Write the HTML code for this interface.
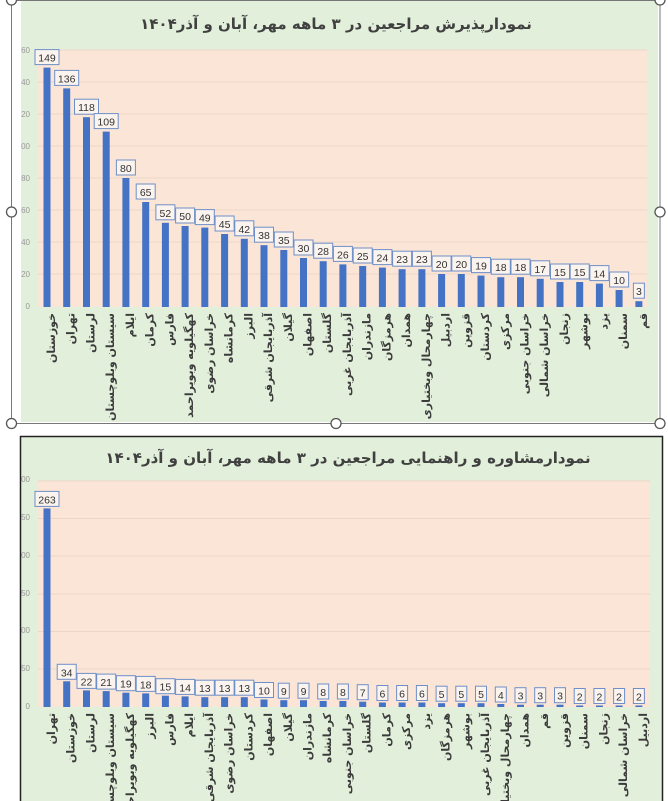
<!DOCTYPE html>
<html><head><meta charset="utf-8"><style>
html,body{margin:0;padding:0;background:#fff;width:668px;height:801px;overflow:hidden}
svg{display:block}
.v{font:10.5px "Liberation Sans",sans-serif;fill:#333;text-anchor:middle}
.y{font:8px "Liberation Sans",sans-serif;fill:#999;text-anchor:end}
.c{font:bold 11px "DejaVu Sans",sans-serif;fill:#3b3b3b;text-anchor:end}
.t{font:bold 15px "DejaVu Sans",sans-serif;fill:#404040;text-anchor:middle}
.lb{fill:#fbf3ee;stroke:#6f8fc8;stroke-width:1}
.b{fill:#4472c4}
.g{stroke:#ecd6c8;stroke-width:1}
</style></head><body>
<svg width="668" height="801" viewBox="0 0 668 801" xmlns="http://www.w3.org/2000/svg">
<defs>
<clipPath id="c1"><rect x="21" y="0" width="637" height="422"/></clipPath>
<clipPath id="c2"><rect x="21" y="437" width="642" height="364"/></clipPath>
</defs>
<!-- TOP CHART -->
<g clip-path="url(#c1)">
<rect x="21" y="0" width="637" height="422" fill="#e2efda"/>
<rect x="38" y="50" width="609" height="257" fill="#fbe5d6"/>
<g class="g">
<line x1="38" x2="647" y1="50" y2="50"/><line x1="38" x2="647" y1="82" y2="82"/><line x1="38" x2="647" y1="114" y2="114"/><line x1="38" x2="647" y1="146" y2="146"/><line x1="38" x2="647" y1="178" y2="178"/><line x1="38" x2="647" y1="210" y2="210"/><line x1="38" x2="647" y1="242" y2="242"/><line x1="38" x2="647" y1="274" y2="274"/>
</g>
<g class="y">
<text x="30" y="53">160</text><text x="30" y="85">140</text><text x="30" y="117">120</text><text x="30" y="149">100</text><text x="30" y="181">80</text><text x="30" y="213">60</text><text x="30" y="245">40</text><text x="30" y="277">20</text><text x="30" y="309">0</text>
</g>
<text class="t" x="336" y="29">نمودارپذیرش مراجعین در ۳ ماهه مهر، آبان و آذر۱۴۰۴</text>
<g class="b">
<rect x="43.5" y="67.6" width="7" height="239.4"/>
<rect x="63.2" y="88.4" width="7" height="218.6"/>
<rect x="83" y="117.2" width="7" height="189.8"/>
<rect x="102.7" y="131.6" width="7" height="175.4"/>
<rect x="122.4" y="178" width="7" height="129"/>
<rect x="142.2" y="202" width="7" height="105"/>
<rect x="161.9" y="222.8" width="7" height="84.2"/>
<rect x="181.6" y="226" width="7" height="81"/>
<rect x="201.3" y="227.6" width="7" height="79.4"/>
<rect x="221.1" y="234" width="7" height="73"/>
<rect x="240.8" y="238.8" width="7" height="68.2"/>
<rect x="260.5" y="245.2" width="7" height="61.8"/>
<rect x="280.3" y="250" width="7" height="57"/>
<rect x="300" y="258" width="7" height="49"/>
<rect x="319.7" y="261.2" width="7" height="45.8"/>
<rect x="339.4" y="264.4" width="7" height="42.6"/>
<rect x="359.2" y="266" width="7" height="41"/>
<rect x="378.9" y="267.6" width="7" height="39.4"/>
<rect x="398.6" y="269.2" width="7" height="37.8"/>
<rect x="418.4" y="269.2" width="7" height="37.8"/>
<rect x="438.1" y="274" width="7" height="33"/>
<rect x="457.8" y="274" width="7" height="33"/>
<rect x="477.5" y="275.6" width="7" height="31.4"/>
<rect x="497.3" y="277.2" width="7" height="29.8"/>
<rect x="517" y="277.2" width="7" height="29.8"/>
<rect x="536.7" y="278.8" width="7" height="28.2"/>
<rect x="556.5" y="282" width="7" height="25"/>
<rect x="576.2" y="282" width="7" height="25"/>
<rect x="595.9" y="283.6" width="7" height="23.4"/>
<rect x="615.6" y="290" width="7" height="17"/>
<rect x="635.4" y="301.2" width="7" height="5.8"/>
</g>
<g class="lb">
<rect x="35" y="49.6" width="24" height="15"/>
<rect x="54.7" y="70.4" width="24" height="15"/>
<rect x="74.5" y="99.2" width="24" height="15"/>
<rect x="94.2" y="113.6" width="24" height="15"/>
<rect x="116.4" y="160" width="19" height="15"/>
<rect x="136.2" y="184" width="19" height="15"/>
<rect x="155.9" y="204.8" width="19" height="15"/>
<rect x="175.6" y="208" width="19" height="15"/>
<rect x="195.3" y="209.6" width="19" height="15"/>
<rect x="215.1" y="216" width="19" height="15"/>
<rect x="234.8" y="220.8" width="19" height="15"/>
<rect x="254.5" y="227.2" width="19" height="15"/>
<rect x="274.3" y="232" width="19" height="15"/>
<rect x="294" y="240" width="19" height="15"/>
<rect x="313.7" y="243.2" width="19" height="15"/>
<rect x="333.4" y="246.4" width="19" height="15"/>
<rect x="353.2" y="248" width="19" height="15"/>
<rect x="372.9" y="249.6" width="19" height="15"/>
<rect x="392.6" y="251.2" width="19" height="15"/>
<rect x="412.4" y="251.2" width="19" height="15"/>
<rect x="432.1" y="256" width="19" height="15"/>
<rect x="451.8" y="256" width="19" height="15"/>
<rect x="471.5" y="257.6" width="19" height="15"/>
<rect x="491.3" y="259.2" width="19" height="15"/>
<rect x="511" y="259.2" width="19" height="15"/>
<rect x="530.7" y="260.8" width="19" height="15"/>
<rect x="550.5" y="264" width="19" height="15"/>
<rect x="570.2" y="264" width="19" height="15"/>
<rect x="589.9" y="265.6" width="19" height="15"/>
<rect x="609.6" y="272" width="19" height="15"/>
<rect x="633.4" y="283.2" width="11" height="15"/>
</g>
<g class="v">
<text x="47" y="61.6">149</text><text x="66.7" y="82.4">136</text><text x="86.5" y="111.2">118</text><text x="106.2" y="125.6">109</text><text x="125.9" y="172">80</text><text x="145.7" y="196">65</text><text x="165.4" y="216.8">52</text><text x="185.1" y="220">50</text><text x="204.8" y="221.6">49</text><text x="224.6" y="228">45</text><text x="244.3" y="232.8">42</text><text x="264" y="239.2">38</text><text x="283.8" y="244">35</text><text x="303.5" y="252">30</text><text x="323.2" y="255.2">28</text><text x="342.9" y="258.4">26</text><text x="362.7" y="260">25</text><text x="382.4" y="261.6">24</text><text x="402.1" y="263.2">23</text><text x="421.9" y="263.2">23</text><text x="441.6" y="268">20</text><text x="461.3" y="268">20</text><text x="481" y="269.6">19</text><text x="500.8" y="271.2">18</text><text x="520.5" y="271.2">18</text><text x="540.2" y="272.8">17</text><text x="560" y="276">15</text><text x="579.7" y="276">15</text><text x="599.4" y="277.6">14</text><text x="619.1" y="284">10</text><text x="638.9" y="295.2">3</text>
</g>
<g class="c">
<text transform="translate(55,313) rotate(-90)">خوزستان</text>
<text transform="translate(74.7,313) rotate(-90)">تهران</text>
<text transform="translate(94.5,313) rotate(-90)">لرستان</text>
<text transform="translate(114.2,313) rotate(-90)">سیستان وبلوچستان</text>
<text transform="translate(133.9,313) rotate(-90)">ایلام</text>
<text transform="translate(153.7,313) rotate(-90)">کرمان</text>
<text transform="translate(173.4,313) rotate(-90)">فارس</text>
<text transform="translate(193.1,313) rotate(-90)">کهگیلویه وبویراحمد</text>
<text transform="translate(212.8,313) rotate(-90)">خراسان رضوی</text>
<text transform="translate(232.6,313) rotate(-90)">کرمانشاه</text>
<text transform="translate(252.3,313) rotate(-90)">البرز</text>
<text transform="translate(272,313) rotate(-90)">آذربایجان شرقی</text>
<text transform="translate(291.8,313) rotate(-90)">گیلان</text>
<text transform="translate(311.5,313) rotate(-90)">اصفهان</text>
<text transform="translate(331.2,313) rotate(-90)">گلستان</text>
<text transform="translate(350.9,313) rotate(-90)">آذربایجان غربی</text>
<text transform="translate(370.7,313) rotate(-90)">مازندران</text>
<text transform="translate(390.4,313) rotate(-90)">هرمزگان</text>
<text transform="translate(410.1,313) rotate(-90)">همدان</text>
<text transform="translate(429.9,313) rotate(-90)">چهارمحال وبختیاری</text>
<text transform="translate(449.6,313) rotate(-90)">اردبیل</text>
<text transform="translate(469.3,313) rotate(-90)">قزوین</text>
<text transform="translate(489,313) rotate(-90)">کردستان</text>
<text transform="translate(508.8,313) rotate(-90)">مرکزی</text>
<text transform="translate(528.5,313) rotate(-90)">خراسان جنوبی</text>
<text transform="translate(548.2,313) rotate(-90)">خراسان شمالی</text>
<text transform="translate(568,313) rotate(-90)">زنجان</text>
<text transform="translate(587.7,313) rotate(-90)">بوشهر</text>
<text transform="translate(607.4,313) rotate(-90)">یزد</text>
<text transform="translate(627.1,313) rotate(-90)">سمنان</text>
<text transform="translate(646.9,313) rotate(-90)">قم</text>
</g>
</g>
<!-- selection frame -->
<rect x="11.5" y="0.5" width="648.5" height="423" fill="none" stroke="#777" stroke-width="1"/>
<g fill="#fff" stroke="#555" stroke-width="1.3">
<circle cx="11.5" cy="0" r="5"/><circle cx="11.5" cy="212" r="5"/><circle cx="11.5" cy="423.5" r="5"/>
<circle cx="336" cy="423.5" r="5"/><circle cx="660" cy="0" r="5"/><circle cx="660" cy="212" r="5"/><circle cx="660" cy="423.5" r="5"/>
</g>
<!-- BOTTOM CHART -->
<g clip-path="url(#c2)">
<rect x="21" y="437" width="642" height="364" fill="#e2efda"/>
<rect x="38" y="481" width="612" height="226" fill="#fbe5d6"/>
<g class="g">
<line x1="38" x2="650" y1="481" y2="481"/><line x1="38" x2="650" y1="518.5" y2="518.5"/><line x1="38" x2="650" y1="556" y2="556"/><line x1="38" x2="650" y1="594" y2="594"/><line x1="38" x2="650" y1="631.5" y2="631.5"/><line x1="38" x2="650" y1="669" y2="669"/>
</g>
<g class="y">
<text x="30" y="482">300</text><text x="30" y="520">250</text><text x="30" y="558">200</text><text x="30" y="596">150</text><text x="30" y="633">100</text><text x="30" y="671">50</text><text x="30" y="709">0</text>
</g>
<text class="t" x="348" y="463">نمودارمشاوره و راهنمایی مراجعین در ۳ ماهه مهر، آبان و آذر۱۴۰۴</text>
<g class="b">
<rect x="43.5" y="508.4" width="7" height="198.6"/>
<rect x="63.2" y="681.3" width="7" height="25.7"/>
<rect x="83" y="690.4" width="7" height="16.6"/>
<rect x="102.7" y="691.1" width="7" height="15.9"/>
<rect x="122.4" y="692.7" width="7" height="14.3"/>
<rect x="142.2" y="693.4" width="7" height="13.6"/>
<rect x="161.9" y="695.7" width="7" height="11.3"/>
<rect x="181.6" y="696.4" width="7" height="10.6"/>
<rect x="201.3" y="697.2" width="7" height="9.8"/>
<rect x="221.1" y="697.2" width="7" height="9.8"/>
<rect x="240.8" y="697.2" width="7" height="9.8"/>
<rect x="260.5" y="699.5" width="7" height="7.5"/>
<rect x="280.3" y="700.2" width="7" height="6.8"/>
<rect x="300" y="700.2" width="7" height="6.8"/>
<rect x="319.7" y="701" width="7" height="6"/>
<rect x="339.4" y="701" width="7" height="6"/>
<rect x="359.2" y="701.7" width="7" height="5.3"/>
<rect x="378.9" y="702.5" width="7" height="4.5"/>
<rect x="398.6" y="702.5" width="7" height="4.5"/>
<rect x="418.4" y="702.5" width="7" height="4.5"/>
<rect x="438.1" y="703.2" width="7" height="3.8"/>
<rect x="457.8" y="703.2" width="7" height="3.8"/>
<rect x="477.5" y="703.2" width="7" height="3.8"/>
<rect x="497.3" y="704" width="7" height="3"/>
<rect x="517" y="704.7" width="7" height="2.3"/>
<rect x="536.7" y="704.7" width="7" height="2.3"/>
<rect x="556.5" y="704.7" width="7" height="2.3"/>
<rect x="576.2" y="705.5" width="7" height="1.5"/>
<rect x="595.9" y="705.5" width="7" height="1.5"/>
<rect x="615.6" y="705.5" width="7" height="1.5"/>
<rect x="635.4" y="705.5" width="7" height="1.5"/>
</g>
<g class="lb">
<rect x="35" y="491.4" width="24" height="15"/>
<rect x="57.2" y="664.3" width="19" height="15"/>
<rect x="77" y="673.4" width="19" height="15"/>
<rect x="96.7" y="674.1" width="19" height="15"/>
<rect x="116.4" y="675.7" width="19" height="15"/>
<rect x="136.2" y="676.4" width="19" height="15"/>
<rect x="155.9" y="678.7" width="19" height="15"/>
<rect x="175.6" y="679.4" width="19" height="15"/>
<rect x="195.3" y="680.2" width="19" height="15"/>
<rect x="215.1" y="680.2" width="19" height="15"/>
<rect x="234.8" y="680.2" width="19" height="15"/>
<rect x="254.5" y="682.5" width="19" height="15"/>
<rect x="278.3" y="683.2" width="11" height="15"/>
<rect x="298" y="683.2" width="11" height="15"/>
<rect x="317.7" y="684" width="11" height="15"/>
<rect x="337.4" y="684" width="11" height="15"/>
<rect x="357.2" y="684.7" width="11" height="15"/>
<rect x="376.9" y="685.5" width="11" height="15"/>
<rect x="396.6" y="685.5" width="11" height="15"/>
<rect x="416.4" y="685.5" width="11" height="15"/>
<rect x="436.1" y="686.2" width="11" height="15"/>
<rect x="455.8" y="686.2" width="11" height="15"/>
<rect x="475.5" y="686.2" width="11" height="15"/>
<rect x="495.3" y="687" width="11" height="15"/>
<rect x="515" y="687.7" width="11" height="15"/>
<rect x="534.7" y="687.7" width="11" height="15"/>
<rect x="554.5" y="687.7" width="11" height="15"/>
<rect x="574.2" y="688.5" width="11" height="15"/>
<rect x="593.9" y="688.5" width="11" height="15"/>
<rect x="613.6" y="688.5" width="11" height="15"/>
<rect x="633.4" y="688.5" width="11" height="15"/>
</g>
<g class="v">
<text x="47" y="503.4">263</text><text x="66.7" y="676.3">34</text><text x="86.5" y="685.4">22</text><text x="106.2" y="686.1">21</text><text x="125.9" y="687.7">19</text><text x="145.7" y="688.4">18</text><text x="165.4" y="690.7">15</text><text x="185.1" y="691.4">14</text><text x="204.8" y="692.2">13</text><text x="224.6" y="692.2">13</text><text x="244.3" y="692.2">13</text><text x="264" y="694.5">10</text><text x="283.8" y="695.2">9</text><text x="303.5" y="695.2">9</text><text x="323.2" y="696">8</text><text x="342.9" y="696">8</text><text x="362.7" y="696.7">7</text><text x="382.4" y="697.5">6</text><text x="402.1" y="697.5">6</text><text x="421.9" y="697.5">6</text><text x="441.6" y="698.2">5</text><text x="461.3" y="698.2">5</text><text x="481" y="698.2">5</text><text x="500.8" y="699">4</text><text x="520.5" y="699.7">3</text><text x="540.2" y="699.7">3</text><text x="560" y="699.7">3</text><text x="579.7" y="700.5">2</text><text x="599.4" y="700.5">2</text><text x="619.1" y="700.5">2</text><text x="638.9" y="700.5">2</text>
</g>
<g class="c">
<text transform="translate(55,713) rotate(-90)">تهران</text>
<text transform="translate(74.7,713) rotate(-90)">خوزستان</text>
<text transform="translate(94.5,713) rotate(-90)">لرستان</text>
<text transform="translate(114.2,713) rotate(-90)">سیستان وبلوچستان</text>
<text transform="translate(133.9,713) rotate(-90)">کهگیلویه وبویراحمد</text>
<text transform="translate(153.7,713) rotate(-90)">البرز</text>
<text transform="translate(173.4,713) rotate(-90)">فارس</text>
<text transform="translate(193.1,713) rotate(-90)">ایلام</text>
<text transform="translate(212.8,713) rotate(-90)">آذربایجان شرقی</text>
<text transform="translate(232.6,713) rotate(-90)">خراسان رضوی</text>
<text transform="translate(252.3,713) rotate(-90)">کردستان</text>
<text transform="translate(272,713) rotate(-90)">اصفهان</text>
<text transform="translate(291.8,713) rotate(-90)">گیلان</text>
<text transform="translate(311.5,713) rotate(-90)">مازندران</text>
<text transform="translate(331.2,713) rotate(-90)">کرمانشاه</text>
<text transform="translate(350.9,713) rotate(-90)">خراسان جنوبی</text>
<text transform="translate(370.7,713) rotate(-90)">گلستان</text>
<text transform="translate(390.4,713) rotate(-90)">کرمان</text>
<text transform="translate(410.1,713) rotate(-90)">مرکزی</text>
<text transform="translate(429.9,713) rotate(-90)">یزد</text>
<text transform="translate(449.6,713) rotate(-90)">هرمزگان</text>
<text transform="translate(469.3,713) rotate(-90)">بوشهر</text>
<text transform="translate(489,713) rotate(-90)">آذربایجان غربی</text>
<text transform="translate(508.8,713) rotate(-90)">چهارمحال وبختیاری</text>
<text transform="translate(528.5,713) rotate(-90)">همدان</text>
<text transform="translate(548.2,713) rotate(-90)">قم</text>
<text transform="translate(568,713) rotate(-90)">قزوین</text>
<text transform="translate(587.7,713) rotate(-90)">سمنان</text>
<text transform="translate(607.4,713) rotate(-90)">زنجان</text>
<text transform="translate(627.1,713) rotate(-90)">خراسان شمالی</text>
<text transform="translate(646.9,713) rotate(-90)">اردبیل</text>
</g>
</g>
<rect x="20.5" y="436.5" width="642" height="370" fill="none" stroke="#222" stroke-width="1.5"/>
</svg>
</body></html>
